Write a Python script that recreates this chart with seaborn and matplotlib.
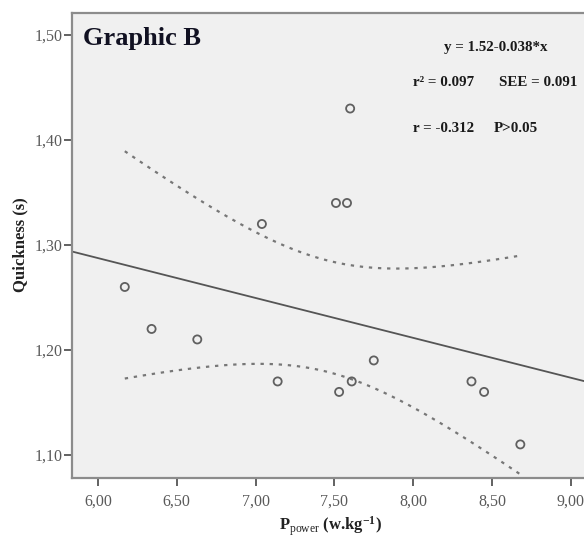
import numpy as np
import pandas as pd
import matplotlib
matplotlib.use("Agg")
import matplotlib.pyplot as plt
from matplotlib.ticker import FuncFormatter
import seaborn as sns

# ---- data ----
p_power = [6.17, 6.34, 6.63, 7.04, 7.51, 7.58, 7.60, 7.75, 7.14, 7.53, 7.61, 8.37, 8.45, 8.68]
quickness = [1.26, 1.22, 1.21, 1.32, 1.34, 1.34, 1.43, 1.19, 1.17, 1.16, 1.17, 1.17, 1.16, 1.11]
x_ticks = [6.00, 6.50, 7.00, 7.50, 8.00, 8.50, 9.00]
y_ticks = [1.10, 1.20, 1.30, 1.40, 1.50]
title_text = "Graphic B"
eq_text = "y = 1.52-0.038*x"
r2_text = "r\u00b2 = 0.097"
see_text = "SEE = 0.091"
r_text = "r = -0.312"
p_text = "P>0.05"
T_CRIT = 2.179  # t(0.975, df = n-2 = 12)

sns.set_theme(style="white")
plt.rcParams["font.family"] = ["Liberation Serif", "DejaVu Serif"]
plt.rcParams["mathtext.fontset"] = "custom"
plt.rcParams["mathtext.rm"] = "Liberation Serif"
plt.rcParams["mathtext.bf"] = "Liberation Serif:bold"
plt.rcParams["mathtext.it"] = "Liberation Serif:italic"

df = pd.DataFrame({"x": p_power, "y": quickness})

W, H = 584, 538
fig = plt.figure(figsize=(W / 100, H / 100), dpi=100)
fig.patch.set_facecolor("white")
ax_left, ax_right, ax_top, ax_bottom = 72, 584, 13, 478
ax = fig.add_axes([ax_left / W, (H - ax_bottom) / H, (ax_right - ax_left) / W, (ax_bottom - ax_top) / H])
ax.set_facecolor("#f0f0f0")

xmin, xmax = 5.835, 9.084
ymin, ymax = 1.078, 1.521

# fit and 95% CI of the mean
x = np.asarray(p_power)
y = np.asarray(quickness)
n = len(x)
b1, b0 = np.polyfit(x, y, 1)
resid = y - (b0 + b1 * x)
s = np.sqrt(np.sum(resid ** 2) / (n - 2))
sxx = np.sum((x - x.mean()) ** 2)

fit_df = pd.DataFrame({"x": [xmin, xmax]})
fit_df["y"] = b0 + b1 * fit_df["x"]

xg = np.linspace(x.min(), x.max(), 100)
yg = b0 + b1 * xg
half = T_CRIT * s * np.sqrt(1 / n + (xg - x.mean()) ** 2 / sxx)
ci_df = pd.DataFrame({"x": xg, "lo": yg - half, "hi": yg + half})

sns.lineplot(data=fit_df, x="x", y="y", ax=ax, color="#555555", linewidth=1.3, estimator=None, sort=False)
for col in ["hi", "lo"]:
    sns.lineplot(data=ci_df, x="x", y=col, ax=ax, color="#777777", linewidth=1.6,
                 linestyle=(0, (1.5, 2.6)), estimator=None, sort=False)
sns.scatterplot(data=df, x="x", y="y", ax=ax, marker="o", s=34, facecolor="none",
                edgecolor="#606060", linewidth=1.3, zorder=5)

ax.set_xlim(xmin, xmax)
ax.set_ylim(ymin, ymax)
ax.set_xticks(x_ticks)
ax.set_yticks(y_ticks)
fmt = FuncFormatter(lambda v, pos: f"{v:.2f}".replace(".", ","))
ax.xaxis.set_major_formatter(fmt)
ax.yaxis.set_major_formatter(fmt)
ax.tick_params(axis="both", direction="out", length=6, width=1.3, color="#555555",
               labelcolor="#5a5a5a", labelsize=11.5, bottom=True, left=True)
ax.tick_params(axis="x", pad=5)
ax.tick_params(axis="y", pad=1)

for side in ["left", "bottom", "top"]:
    ax.spines[side].set_color("#8c8c8c")
    ax.spines[side].set_linewidth(1.6)
ax.spines["right"].set_visible(False)

ax.set_xlabel(r"P$_{\mathrm{power}}$ (w.kg$^{\mathbf{-1}}$)", fontsize=12, fontweight="bold", color="#222222")
ax.xaxis.set_label_coords((331 - ax_left) / (ax_right - ax_left), (ax_bottom - 526) / (ax_bottom - ax_top))
ax.xaxis.label.set_va("center")
ax.set_ylabel("Quickness (s)", fontsize=12, fontweight="bold", color="#222222")
ax.yaxis.set_label_coords((20 - ax_left) / (ax_right - ax_left), (ax_bottom - 245) / (ax_bottom - ax_top))
ax.yaxis.label.set_va("center")

def axc(px, py):
    return (px - ax_left) / (ax_right - ax_left), (ax_bottom - py) / (ax_bottom - ax_top)

ax.text(*axc(83, 45), title_text, transform=ax.transAxes, fontsize=19, fontweight="bold",
        color="#111122", ha="left", va="baseline")
ax.text(*axc(496, 47), eq_text, transform=ax.transAxes, fontsize=10.8, fontweight="bold",
        color="#1a1a1a", ha="center", va="center")
ax.text(*axc(413, 83), r2_text, transform=ax.transAxes, fontsize=10.8, fontweight="bold",
        color="#1a1a1a", ha="left", va="center")
ax.text(*axc(499, 83), see_text, transform=ax.transAxes, fontsize=10.8, fontweight="bold",
        color="#1a1a1a", ha="left", va="center")
ax.text(*axc(413, 128), r_text, transform=ax.transAxes, fontsize=10.8, fontweight="bold",
        color="#1a1a1a", ha="left", va="center")
ax.text(*axc(494, 128), p_text, transform=ax.transAxes, fontsize=10.8, fontweight="bold",
        color="#1a1a1a", ha="left", va="center")

fig.savefig("out.png", dpi=100, facecolor="white")
